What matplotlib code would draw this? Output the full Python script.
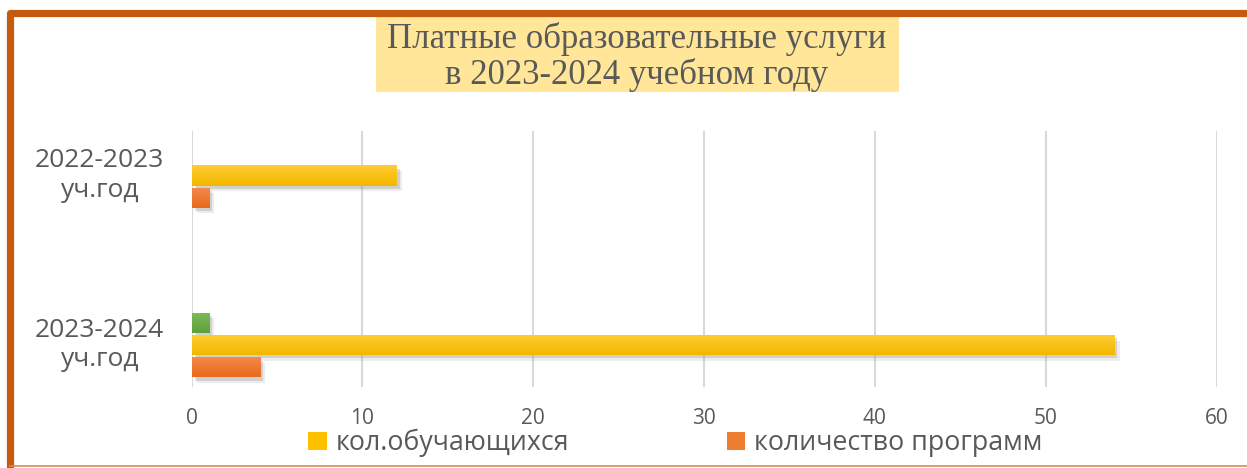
import matplotlib
matplotlib.use("Agg")
import matplotlib.pyplot as plt
import matplotlib.patheffects as pe
from matplotlib.patches import Rectangle, Patch
from matplotlib.lines import Line2D
import numpy as np

# ---- data ----
categories = ["2023-2024\nуч.год", "2022-2023\nуч.год"]
students = [54, 12]          # кол.обучающихся
programs = [4, 1]            # количество программ
third = [1, 0]               # green series (not in legend)
xticks = [0, 10, 20, 30, 40, 50, 60]
title = "Платные образовательные услуги\nв 2023-2024 учебном году"
legend_labels = ["кол.обучающихся", "количество программ"]

W, H = 1247, 468
fig = plt.figure(figsize=(W / 100, H / 100), dpi=100)
fig.patch.set_facecolor("white")

ax = fig.add_axes([191.5 / W, 1 - 387 / H, 1025 / W, 256 / H])
ax.set_facecolor("white")

pos = np.arange(len(categories))
bh = 0.118
off = 0.131

def grad_bars(container, top, bottom):
    for p in container.patches:
        p.set_path_effects([pe.SimplePatchShadow(offset=(4, -4), shadow_rgbFace="#9a9a9a", alpha=0.18),
                            pe.SimplePatchShadow(offset=(2.5, -2.5), shadow_rgbFace="#7f7f7f", alpha=0.25),
                            pe.Normal()])
        x, y = p.get_x(), p.get_y()
        w, h = p.get_width(), p.get_height()
        if w <= 0:
            continue
        c1 = np.array(matplotlib.colors.to_rgb(top))
        c2 = np.array(matplotlib.colors.to_rgb(bottom))
        t = np.linspace(0, 1, 32)[:, None]
        img = (c1 * (1 - t) + c2 * t)[:, None, :]
        im = ax.imshow(img, extent=[x, x + w, y, y + h], aspect="auto",
                       origin="upper", zorder=p.get_zorder() + 0.1, interpolation="bilinear")
        im.set_clip_path(p)

b1 = ax.barh(pos, students, height=bh, color="#FFC000", zorder=3)
b2 = ax.barh(pos - off, programs, height=bh, color="#ED7D31", zorder=3)
b3 = ax.barh(pos + off, third, height=bh, color="#70AD47", zorder=3)
grad_bars(b1, "#FFCC33", "#F2B700")
grad_bars(b2, "#F58A4C", "#E86A1C")
grad_bars(b3, "#7DBA5B", "#5FA03A")

ax.set_xlim(0, 60)
ax.set_ylim((345 - 387) / 169.5, (345 - 131) / 169.5)
ax.set_xticks(xticks)
ax.set_xticklabels([str(v) for v in xticks])
ax.set_yticks(pos)
ax.set_yticklabels(categories)
for s in ax.spines.values():
    s.set_visible(False)
ax.grid(axis="x", color="#D9D9D9", linewidth=1.5, zorder=0)
ax.set_axisbelow(True)
ax.tick_params(axis="x", length=0, pad=15, labelsize=15, labelcolor="#595959")
ax.tick_params(axis="y", length=0, pad=66, labelsize=19, labelcolor="#595959")
for lab in ax.get_xticklabels():
    lab.set_fontfamily("Open Sans")
for lab in ax.get_yticklabels():
    lab.set_fontfamily("Open Sans")
    lab.set_ha("center")
    lab.set_va("center")
    lab.set_linespacing(1.25)

# title box
fig.patches.append(Rectangle((376 / W, 1 - 92 / H), (899 - 376) / W, (92 - 17) / H,
                             transform=fig.transFigure, facecolor="#FFE699", edgecolor="none", zorder=1))
fig.text(637 / W, 1 - 57 / H, title, ha="center", va="center", fontsize=25,
         family="Liberation Serif", color="#595959", linespacing=1.05, zorder=2)

# legend
handles = [Patch(facecolor="#FFC000", edgecolor="none"), Patch(facecolor="#ED7D31", edgecolor="none")]
leg = fig.legend(handles, legend_labels, ncol=2, loc="center left",
                 bbox_to_anchor=(295 / W, 1 - 443 / H), frameon=False, borderpad=0,
                 prop={"family": "Open Sans", "size": 19.3}, labelcolor="#595959",
                 handlelength=0.68, handleheight=0.68, handletextpad=0.33, columnspacing=5.9)

# frame
fr = "#C55A11"
fig.add_artist(Line2D([9.5 / W, 9.5 / W, 1.0], [0.0, 1 - 12.5 / H, 1 - 12.5 / H],
                      transform=fig.transFigure, color=fr, linewidth=5.2,
                      solid_joinstyle="round", solid_capstyle="butt"))
fig.add_artist(Line2D([9.5 / W, 1.0], [1 - 466 / H, 1 - 466 / H],
                      transform=fig.transFigure, color="#D98A5A", linewidth=1.2))

fig.savefig("out.png", dpi=100, facecolor="white")
